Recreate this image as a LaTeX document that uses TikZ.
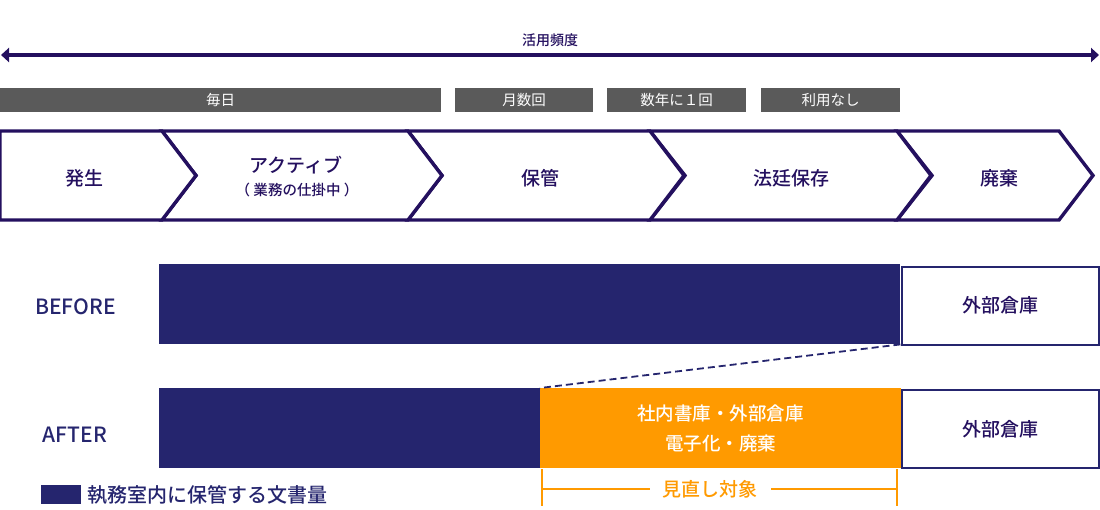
\documentclass[tikz,border=0pt]{standalone}
\usepackage{fontspec}
\setmainfont{Noto Sans CJK JP}[BoldFont={Noto Sans CJK JP Medium}]
\usetikzlibrary{arrows.meta,positioning}
\definecolor{ink}{HTML}{24105F}
\definecolor{navy}{HTML}{25256E}
\definecolor{grey}{HTML}{5A5A5A}
\definecolor{amber}{HTML}{FF9A00}

\begin{document}
\begin{tikzpicture}[x=1pt,y=-1pt,every node/.style={inner sep=0pt,font=\bfseries\fontsize{19}{23}\selectfont},
  chev/.style={draw=ink,fill=white,line width=3.4pt,line join=miter},
  stock/.style={fill=navy,minimum height=80pt,anchor=north west},
  ext/.style={draw=navy,fill=white,line width=2pt,text=ink,minimum width=197pt,minimum height=78pt,anchor=north west}]
\useasboundingbox (0,0) rectangle (1100,509);
% frequency of use
\coordinate (fl) at (1,55); \coordinate (fr) at (1099,55);
\draw[{Triangle[length=8pt,width=14pt]}-{Triangle[length=8pt,width=14pt]},ink,line width=3.6pt] (fl)--(fr);
\node[text=ink,font=\bfseries\fontsize{14}{16}\selectfont] (freq) at (550,40) {活用頻度};
\foreach \xa/\xb/\nm/\txt in {0/441/daily/毎日,455/593/monthly/月数回,607/746/yearly/数年に１回,761/900/never/利用なし}{
\fill[grey] (\xa,88) rectangle (\xb,112);
\node[text=white,font=\fontsize{14.5}{16}\selectfont] (\nm) at ({(\xa+\xb)/2},100) {\txt};}
% life cycle
\foreach \xa/\xb/\nt in {897/1059/35,650/897/35,408/650/34,162/408/34,0/162/0}
\draw[chev] (\xa,131)--(\xb,131)--(\xb+34,175.5)--(\xb,220)--(\xa,220)--(\xa+\nt,175.5)--cycle;
\node[text=ink] (birth) at (84,178) {発生};
\node[text=ink] (active) at (296,165) {アクティブ};
\node[text=ink,font=\bfseries\fontsize{14.5}{16}\selectfont] (wip) at (297,190) {（ 業務の仕掛中 ）};
\node[text=ink] (keep) at (540,178) {保管};
\node[text=ink] (legal) at (791,178) {法廷保存};
\node[text=ink] (dispose) at (999,178) {廃棄};
% before / after
\node[text=navy,font=\bfseries\fontsize{21}{24}\selectfont] (before) at (75.5,307) {BEFORE};
\node[text=navy,font=\bfseries\fontsize{21}{24}\selectfont] (after) at (75,435) {AFTER};
\node[stock,minimum width=741pt] (bin) at (159,264) {};
\node[ext] (bext) at (901,265.5) {外部倉庫};
\node[stock,minimum width=381pt] (ain) at (159,388) {};
\node[stock,fill=amber,minimum width=361pt,text=white,align=center,font=\bfseries\fontsize{18.5}{30}\selectfont] (arev) at (540,388) {社内書庫・外部倉庫\\電子化・廃棄};
\node[ext] (aext) at (901,389) {外部倉庫};
\draw[navy,line width=1.8pt,dash pattern=on 7pt off 4pt] (bin.south east)--(arev.north west);
% review target
\coordinate (rl) at (542,469); \coordinate (rr) at (897,469);
\draw[amber,line width=2pt] (rl)--++(0,37) (rr)--++(0,37) (542,489)--(897,489);
\node[fill=white,inner xsep=13pt,inner ysep=2pt,text=amber] (review) at (710,489) {見直し対象};
% legend
\node[fill=navy,minimum width=40pt,minimum height=19pt] (key) at (61,494) {};
\node[text=navy,anchor=west,font=\bfseries\fontsize{20}{22}\selectfont] (keytxt) at (87,495) {執務室内に保管する文書量};
\end{tikzpicture}
\end{document}
